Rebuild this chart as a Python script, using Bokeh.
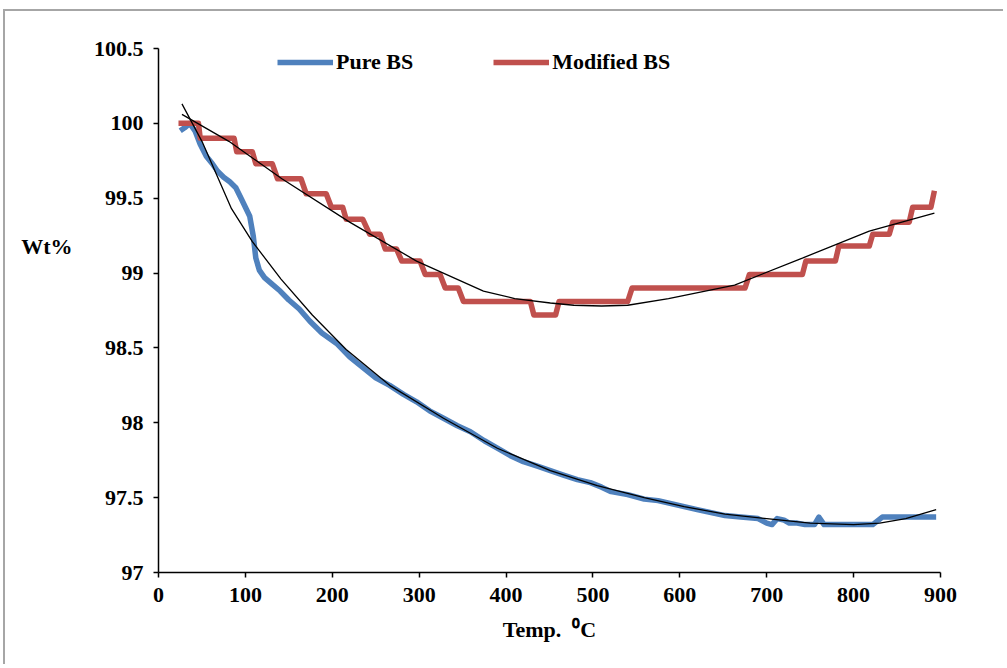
from bokeh.plotting import figure
from bokeh.models import FixedTicker, Legend, LegendItem, Range1d, LinearAxis
from bokeh.embed import file_html
from bokeh.resources import INLINE

# ---- data ----
pure_x = [25, 30, 36, 42, 48, 55, 62, 68, 75, 82, 89, 95, 100, 105, 109, 112, 116, 122,
          130, 140, 150, 162, 174, 188, 205, 220, 235, 250, 266, 282, 297, 312, 328, 344,
          359, 375, 390, 405, 420, 436, 451, 466, 482, 497, 510, 521, 540, 559, 575, 590,
          605, 620, 636, 652, 670, 690, 700, 706, 712, 720, 726, 735, 744, 755, 760, 766,
          790, 822, 833, 860, 895]
pure_y = [99.95, 99.97, 100.0, 99.95, 99.86, 99.78, 99.73, 99.68, 99.64, 99.61, 99.57, 99.50,
          99.44, 99.38, 99.25, 99.10, 99.02, 98.97, 98.93, 98.88, 98.82, 98.76, 98.68, 98.60,
          98.53, 98.44, 98.37, 98.30, 98.25, 98.19, 98.14, 98.08, 98.03, 97.98, 97.94, 97.88,
          97.83, 97.78, 97.74, 97.71, 97.68, 97.65, 97.62, 97.60, 97.57, 97.54, 97.52, 97.49,
          97.48, 97.46, 97.44, 97.42, 97.40, 97.38, 97.37, 97.36, 97.33, 97.32, 97.36, 97.35,
          97.33, 97.33, 97.32, 97.32, 97.37, 97.32, 97.32, 97.32, 97.37, 97.37, 97.37]

mod_x = [23, 46, 48, 87, 90, 108, 112, 131, 137, 164, 170, 193, 199, 212, 216, 235, 243, 255,
         261, 274, 280, 301, 307, 324, 330, 345, 351, 428, 432, 457, 461, 540, 545, 675, 680,
         741, 745, 779, 783, 818, 822, 841, 845, 864, 868, 889, 893]
mod_y = [100.0, 100.0, 99.9, 99.9, 99.81, 99.81, 99.73, 99.73, 99.63, 99.63, 99.53, 99.53,
         99.44, 99.44, 99.36, 99.36, 99.26, 99.26, 99.16, 99.16, 99.08, 99.08, 98.99, 98.99,
         98.90, 98.90, 98.81, 98.81, 98.72, 98.72, 98.81, 98.81, 98.90, 98.90, 98.99, 98.99,
         99.08, 99.08, 99.18, 99.18, 99.26, 99.26, 99.34, 99.34, 99.44, 99.44, 99.55]

pure_fit_x = [27, 50, 84, 108, 141, 177, 216, 266, 328, 390, 451, 505, 559, 605, 652, 700,
              750, 800, 830, 860, 895]
pure_fit_y = [100.13, 99.88, 99.43, 99.21, 98.96, 98.72, 98.49, 98.25, 98.03, 97.83, 97.68,
              97.58, 97.50, 97.44, 97.39, 97.36, 97.33, 97.32, 97.33, 97.36, 97.42]

mod_fit_x = [27, 81, 142, 220, 297, 374, 410, 451, 478, 510, 540, 587, 663, 741, 818, 893]
mod_fit_y = [100.06, 99.88, 99.63, 99.34, 99.08, 98.88, 98.83, 98.80, 98.785, 98.78, 98.785,
             98.83, 98.92, 99.10, 99.28, 99.40]

x_ticks = [0, 100, 200, 300, 400, 500, 600, 700, 800, 900]
y_ticks = [97, 97.5, 98, 98.5, 99, 99.5, 100, 100.5]
y_tick_labels = ["97", "97.5", "98", "98.5", "99", "99.5", "100", "100.5"]

series_names = ["Pure BS", "Modified BS"]
x_title = "Temp.\u00a0\u00a0\u2070C"
y_title = "Wt%"

# ---- styling ----
BLUE = "#4f81bd"
RED = "#c0504d"
FONT = "Liberation Serif"
FS = "22px"

p = figure(width=1000, height=655, x_range=Range1d(0, 900), y_range=Range1d(97, 100.5),
           output_backend="svg", toolbar_location=None,
           min_border_left=153, min_border_top=37, min_border_right=65, min_border_bottom=94)
p.styles = {"border-left": "2px solid #a6a6a6", "border-top": "2px solid #a6a6a6",
            "margin-left": "3px", "margin-top": "9px"}
p.outline_line_color = None
p.xgrid.visible = False
p.ygrid.visible = False
p.background_fill_color = "white"
p.border_fill_color = "white"

r_pure = p.line(pure_x, pure_y, line_color=BLUE, line_width=5.5, line_join="round")
r_mod = p.line(mod_x, mod_y, line_color=RED, line_width=5.5, line_join="round")
p.line(pure_fit_x, pure_fit_y, line_color="black", line_width=1.3)
p.line(mod_fit_x, mod_fit_y, line_color="black", line_width=1.3)

# horizontal y title, drawn as a bare outer axis with one labelled position
title_axis = LinearAxis(ticker=FixedTicker(ticks=[99.18]),
                        major_label_overrides={99.18: y_title})
p.add_layout(title_axis, "left")
title_axis.axis_line_color = None
title_axis.major_tick_line_color = None
title_axis.minor_tick_line_color = None
title_axis.major_label_standoff = 12

for ax in (p.xaxis[0], p.yaxis[0]):
    ax.axis_line_color = "black"
    ax.axis_line_width = 1.5
    ax.major_tick_line_color = "black"
    ax.major_tick_line_width = 1.5
    ax.major_tick_in = 0
    ax.major_tick_out = 5
    ax.minor_tick_line_color = None

for ax in (p.xaxis[0], p.yaxis[0], title_axis):
    ax.major_label_text_font = FONT
    ax.major_label_text_font_style = "bold"
    ax.major_label_text_font_size = FS
    ax.major_label_text_color = "black"

p.xaxis[0].ticker = FixedTicker(ticks=x_ticks)
p.yaxis[0].ticker = FixedTicker(ticks=y_ticks)
p.yaxis[0].major_label_overrides = {t: l for t, l in zip(y_ticks, y_tick_labels)}
p.xaxis[0].major_label_standoff = 10
p.yaxis[0].major_label_standoff = 10

p.xaxis[0].axis_label = x_title
p.xaxis[0].axis_label_text_font = FONT
p.xaxis[0].axis_label_text_font_style = "bold"
p.xaxis[0].axis_label_text_font_size = FS
p.xaxis[0].axis_label_text_color = "black"
p.xaxis[0].axis_label_standoff = 12

legend = Legend(items=[LegendItem(label=series_names[0], renderers=[r_pure]),
                       LegendItem(label=series_names[1], renderers=[r_mod])],
                orientation="horizontal", location=(119, 497),
                label_text_font=FONT, label_text_font_style="bold",
                label_text_font_size=FS, label_text_color="black",
                glyph_width=56, glyph_height=26, label_height=26, label_standoff=3,
                spacing=80, padding=0, margin=0, border_line_color=None,
                background_fill_alpha=0)
p.add_layout(legend)

open("out.html", "w").write(file_html(p, INLINE))
